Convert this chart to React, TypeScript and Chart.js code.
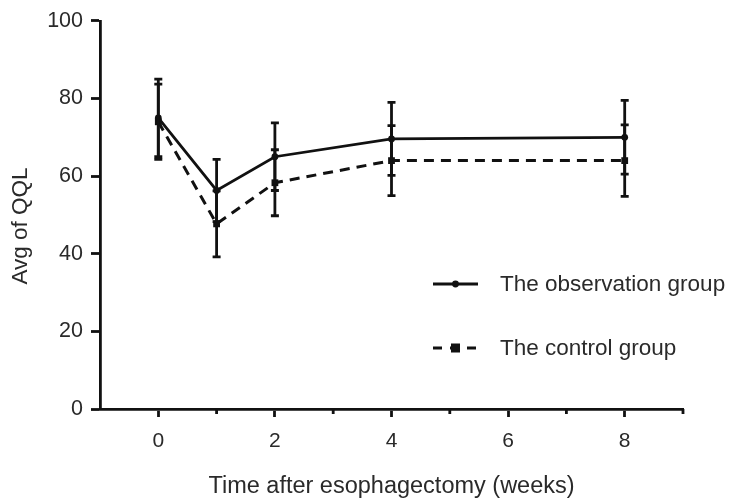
import React, { useEffect, useRef } from "react";
import { Chart, registerables } from "chart.js";

Chart.register(...registerables);

const weeks = [0, 1, 2, 4, 8];
const obsMean = [75, 56.3, 65, 69.6, 70];
const obsSD = [10, 8, 8.7, 9.4, 9.5];
const ctrlMean = [74, 47.7, 58.3, 64, 64];
const ctrlSD = [9.7, 8.5, 8.5, 9, 9.2];

const xMajorTicks = [0, 2, 4, 6, 8];
const xMinorTicks = [1, 3, 5, 7, 9];
const yTicks = [0, 20, 40, 60, 80, 100];

const seriesNames = ["The observation group", "The control group"];
const yTitle = "Avg of QQL";
const xTitle = "Time after esophagectomy (weeks)";

const FONT = "'Liberation Sans', Arial, Helvetica, sans-serif";
const INK = "#111";
const TEXT = "#2a2a2a";

export default function App() {
  const ref = useRef<HTMLCanvasElement>(null);

  useEffect(() => {
    if (!ref.current) return;
    const sds = [obsSD, ctrlSD];

    const errorBars = {
      id: "errorBars",
      afterDatasetsDraw(chart: any) {
        const { ctx } = chart;
        const xs = chart.scales.x;
        const ys = chart.scales.y;
        ctx.save();
        ctx.strokeStyle = INK;
        ctx.lineWidth = 2.8;
        ctx.setLineDash([]);
        chart.data.datasets.forEach((ds: any, di: number) => {
          ds.data.forEach((p: any, i: number) => {
            const sd = sds[di][i];
            const px = xs.getPixelForValue(p.x);
            const top = ys.getPixelForValue(p.y + sd);
            const bot = ys.getPixelForValue(p.y - sd);
            ctx.beginPath();
            ctx.moveTo(px, top);
            ctx.lineTo(px, bot);
            ctx.moveTo(px - 4, top);
            ctx.lineTo(px + 4, top);
            ctx.moveTo(px - 4, bot);
            ctx.lineTo(px + 4, bot);
            ctx.stroke();
          });
        });
        ctx.restore();
      },
    };

    const extras = {
      id: "extras",
      afterDraw(chart: any) {
        const { ctx, chartArea } = chart;
        const xs = chart.scales.x;
        ctx.save();
        // minor ticks
        ctx.strokeStyle = INK;
        ctx.lineWidth = 2.8;
        ctx.beginPath();
        xMinorTicks.forEach((v) => {
          const px = xs.getPixelForValue(v);
          ctx.moveTo(px, chartArea.bottom);
          ctx.lineTo(px, chartArea.bottom + 5);
        });
        ctx.stroke();

        // y title
        ctx.fillStyle = TEXT;
        ctx.font = `22.5px ${FONT}`;
        ctx.textAlign = "center";
        ctx.textBaseline = "middle";
        ctx.save();
        ctx.translate(21, 226);
        ctx.rotate(-Math.PI / 2);
        ctx.fillText(yTitle, 0, 0);
        ctx.restore();

        // legend
        const lx0 = 433;
        const lx1 = 478;
        const rows = [284, 348];
        ctx.lineWidth = 3;
        ctx.beginPath();
        ctx.setLineDash([]);
        ctx.moveTo(lx0, rows[0]);
        ctx.lineTo(lx1, rows[0]);
        ctx.stroke();
        ctx.fillStyle = INK;
        ctx.beginPath();
        ctx.arc((lx0 + lx1) / 2, rows[0], 3.4, 0, Math.PI * 2);
        ctx.fill();
        ctx.beginPath();
        ctx.setLineDash([9, 8]);
        ctx.moveTo(lx0, rows[1]);
        ctx.lineTo(lx1, rows[1]);
        ctx.stroke();
        ctx.setLineDash([]);
        ctx.fillRect((lx0 + lx1) / 2 - 4.5, rows[1] - 4.5, 9, 9);

        ctx.fillStyle = TEXT;
        ctx.font = `22.5px ${FONT}`;
        ctx.textBaseline = "middle";
        ctx.textAlign = "left";
        ctx.fillText(seriesNames[0], 500, rows[0] + 1);
        ctx.fillText(seriesNames[1], 500, rows[1] + 1);
        ctx.restore();
      },
    };

    const chart = new Chart(ref.current, {
      type: "line",
      data: {
        datasets: [
          {
            label: seriesNames[0],
            data: weeks.map((w, i) => ({ x: w, y: obsMean[i] })),
            borderColor: INK,
            backgroundColor: INK,
            borderWidth: 2.8,
            pointStyle: "circle",
            pointRadius: 3.4,
            pointBorderWidth: 0,
            tension: 0,
          },
          {
            label: seriesNames[1],
            data: weeks.map((w, i) => ({ x: w, y: ctrlMean[i] })),
            borderColor: INK,
            backgroundColor: INK,
            borderWidth: 3,
            borderDash: [10, 7],
            pointStyle: "rect",
            pointRadius: 4.8,
            pointBorderWidth: 0,
            tension: 0,
          },
        ],
      },
      options: {
        animation: false,
        responsive: false,
        maintainAspectRatio: false,
        layout: { padding: { top: 20, right: 50, left: 0, bottom: 0 } },
        plugins: {
          legend: { display: false },
          tooltip: { enabled: false },
        },
        scales: {
          x: {
            type: "linear",
            min: -1,
            max: 9,
            afterBuildTicks: (scale: any) => {
              scale.ticks = xMajorTicks.map((v) => ({ value: v }));
            },
            afterFit: (scale: any) => {
              scale.height = 90;
            },
            grid: {
              drawOnChartArea: false,
              drawTicks: true,
              tickLength: 8,
              tickWidth: 2.8,
              tickColor: INK,
            },
            border: { display: true, color: INK, width: 2.8 },
            ticks: {
              autoSkip: false,
              maxRotation: 0,
              padding: 12,
              color: TEXT,
              font: { family: FONT, size: 21 },
              callback: (v: any) => String(v),
            },
            title: {
              display: true,
              text: xTitle,
              color: TEXT,
              font: { family: FONT, size: 23.5, lineHeight: 1.05 },
              padding: { top: 0, bottom: 0 },
            },
          },
          y: {
            type: "linear",
            min: 0,
            max: 100,
            afterBuildTicks: (scale: any) => {
              scale.ticks = yTicks.map((v) => ({ value: v }));
            },
            afterFit: (scale: any) => {
              scale.width = 100;
            },
            grid: {
              drawOnChartArea: false,
              drawTicks: true,
              tickLength: 9,
              tickWidth: 2.8,
              tickColor: INK,
            },
            border: { display: true, color: INK, width: 2.8 },
            ticks: {
              padding: 8,
              color: TEXT,
              font: { family: FONT, size: 21.5 },
            },
          },
        },
      },
      plugins: [errorBars, extras],
    });
    return () => chart.destroy();
  }, []);

  return (
    <div style={{ position: "fixed", left: 0, top: 0, width: 733, height: 499, background: "#fff" }}>
      <canvas ref={ref} width={733} height={499} style={{ display: "block" }} />
    </div>
  );
}
